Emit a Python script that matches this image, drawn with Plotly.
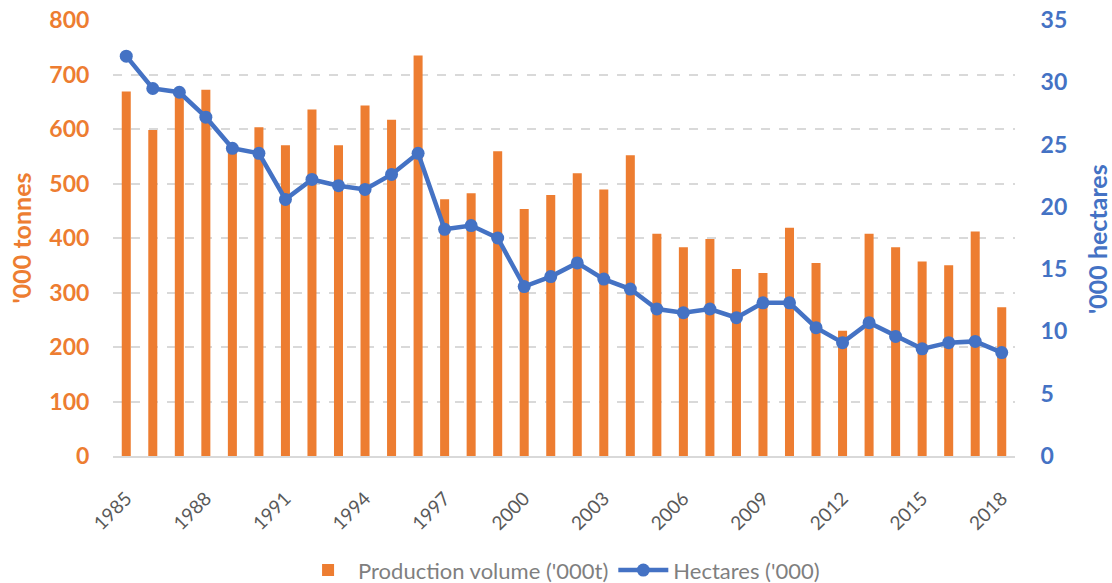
import plotly.graph_objects as go

years = list(range(1985, 2019))
production = [669, 598, 670, 672, 561, 603, 570, 636, 570, 643, 617, 735,
              471, 482, 559, 453, 479, 519, 489, 552, 408, 383, 398, 343,
              336, 419, 354, 230, 408, 383, 357, 350, 412, 273]
hectares = [32.1, 29.5, 29.2, 27.2, 24.7, 24.3, 20.6, 22.2, 21.7, 21.4, 22.6, 24.3,
            18.2, 18.5, 17.5, 13.6, 14.4, 15.5, 14.2, 13.4, 11.8, 11.5, 11.8, 11.1,
            12.3, 12.3, 10.3, 9.1, 10.7, 9.6, 8.6, 9.1, 9.2, 8.3]
tick_years = list(range(1985, 2019, 3))

ORANGE = "#ED7D31"
BLUE = "#4472C4"
GRAY = "#595959"
LEG_GRAY = "#7F7F7F"
FONT = "Lato"

fig = go.Figure()
fig.add_trace(go.Bar(x=years, y=production, name="Production volume ('000t)",
                     marker=dict(color=ORANGE, line=dict(width=0)), yaxis="y"))
fig.add_trace(go.Scatter(x=years, y=hectares, name="Hectares ('000)", mode="lines+markers",
                         line=dict(color=BLUE, width=4.5), marker=dict(color=BLUE, size=13),
                         yaxis="y2"))

fig.update_layout(
    width=1112, height=583,
    margin=dict(l=113, r=97, t=20, b=127, autoexpand=False),
    paper_bgcolor="white", plot_bgcolor="white",
    bargap=0.66,
    font=dict(family=FONT),
    xaxis=dict(range=[1984.5, 2018.5], tickvals=tick_years, ticktext=[str(y) for y in tick_years],
               tickangle=-45, tickfont=dict(size=19, color=GRAY, family=FONT),
               showgrid=False, showline=True, linecolor="#D9D9D9", linewidth=2,
               ticks="outside", ticklen=22, tickcolor="rgba(0,0,0,0)", zeroline=False,
               automargin=False, ticklabeloverflow="allow"),
    yaxis=dict(range=[0, 800], dtick=100, tickfont=dict(size=23, color=ORANGE, family=FONT),
               title=dict(text="<b>'000 tonnes</b>", font=dict(size=25, color=ORANGE), standoff=10),
               showgrid=True, gridcolor="#D9D9D9", griddash="dash", gridwidth=1.5,
               zeroline=False, showline=False, ticks="outside", ticklen=18,
               tickcolor="rgba(0,0,0,0)", automargin=False, ticklabeloverflow="allow"),
    yaxis2=dict(range=[0, 35], dtick=5, overlaying="y", side="right",
                tickfont=dict(size=23, color=BLUE, family=FONT),
                showgrid=False, zeroline=False, showline=False, ticks="outside", ticklen=20,
                tickcolor="rgba(0,0,0,0)", automargin=False, ticklabeloverflow="allow"),
    legend=dict(orientation="h", x=0.505, xanchor="center", xref="container",
                y=-0.262, yanchor="middle", yref="paper",
                font=dict(size=22, color=LEG_GRAY), traceorder="normal",
                itemwidth=50),
    annotations=[dict(text="<b>'000 hectares</b>", xref="paper", yref="paper",
                      x=1.091, y=0.498, xanchor="center", yanchor="middle",
                      textangle=-90, showarrow=False,
                      font=dict(size=25, color=BLUE, family=FONT))],
)
fig.update_yaxes(tickprefix="<b>", ticksuffix="</b>")

fig.write_html("out.html", config={"displayModeBar": False},
               post_script="document.body.style.margin='0';document.body.style.padding='0';")
